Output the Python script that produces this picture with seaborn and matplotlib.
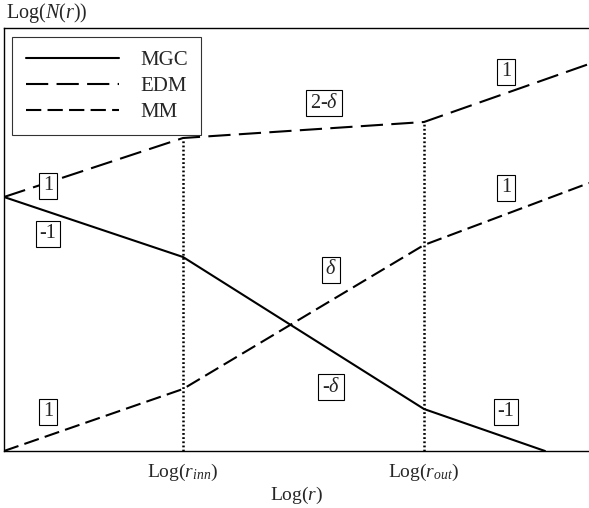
import numpy as np
import pandas as pd
import matplotlib
matplotlib.use("Agg")
import matplotlib.pyplot as plt
import seaborn as sns

# ---- data (arbitrary log units) ----
mgc_x = [0, 179, 420, 541]
mgc_y = [254, 194, 42, 0]
edm_x = [0, 179, 420, 585]
edm_y = [254, 313, 329, 387]
mm_x = [0, 179, 420, 585]
mm_y = [0, 62, 206, 268]
series_names = ["MGC", "EDM", "MM"]
r_inn = 179
r_out = 420
tick_labels = [r"Log($r_{inn}$)", r"Log($r_{out}$)"]
# slope labels: (x, y, text)
slope_x = [44, 44, 44, 320, 502, 327, 502, 327, 502]
slope_y = [265, 217, 39, 348, 379, 181, 263, 64, 39]
slope_txt = ["1", "-1", "1", r"2-$\delta$", "1", r"$\delta$", "1", r"-$\delta$", "-1"]

sns.set_theme(style="white")
plt.rcParams["font.family"] = ["Liberation Serif", "DejaVu Serif"]
plt.rcParams["mathtext.fontset"] = "custom"
plt.rcParams["mathtext.rm"] = "Liberation Serif"
plt.rcParams["mathtext.it"] = "Liberation Serif:italic"
plt.rcParams["lines.scale_dashes"] = False

df = pd.concat([
    pd.DataFrame({"x": mgc_x, "y": mgc_y, "series": "MGC"}),
    pd.DataFrame({"x": edm_x, "y": edm_y, "series": "EDM"}),
    pd.DataFrame({"x": mm_x, "y": mm_y, "series": "MM"}),
])

fig = plt.figure(figsize=(5.89, 5.08), dpi=100)
ax = fig.add_axes([4/589, 57/508, 585/589, 423/508])

sns.lineplot(data=df, x="x", y="y", hue="series", style="series",
             hue_order=series_names, style_order=series_names,
             palette={"MGC": "black", "EDM": "black", "MM": "black"},
             dashes={"MGC": "", "EDM": (16, 6), "MM": (11, 4.5)},
             sort=False, estimator=None, linewidth=1.5, legend=False, ax=ax)

# vertical dotted lines
edm_inn = edm_y[edm_x.index(r_inn)]
edm_out = edm_y[edm_x.index(r_out)]
ax.plot([r_inn, r_inn], [0, edm_inn], color="black", lw=1.8, dashes=(1.3, 1.7))
ax.plot([r_out, r_out], [0, edm_out], color="black", lw=1.8, dashes=(1.3, 1.7))

for xx, yy, tt in zip(slope_x, slope_y, slope_txt):
    ax.text(xx, yy, tt, fontsize=14.5, ha="center", va="center",
            bbox=dict(boxstyle="square,pad=0.18", fc="white", ec="black", lw=0.8))

ax.set_xlim(0, 585)
ax.set_ylim(0, 423)
ax.set_xticks([r_inn, r_out])
ax.set_xticklabels(tick_labels, fontsize=14)
ax.set_yticks([])
ax.tick_params(axis="x", length=0, pad=8)
ax.set_xlabel(r"Log($r$)", fontsize=14, labelpad=1)
ax.set_ylabel("")
for s in ax.spines.values():
    s.set_color("black")
    s.set_linewidth(1.0)
ax.spines["right"].set_visible(False)

fig.text(6/589, 1 - 13/508, r"Log($N(r)$)", fontsize=14.5, ha="left", va="center")

handles = ax.lines[:3]
leg = ax.legend(handles, series_names, loc="upper left", fontsize=15,
                handlelength=4.5, handletextpad=1.0, labelspacing=0.3,
                borderpad=0.65, borderaxespad=0, frameon=True, fancybox=False,
                bbox_to_anchor=(8/585, (451 - 37)/423))
leg.get_frame().set_edgecolor("black")
leg.get_frame().set_linewidth(0.8)

fig.savefig("out.png", dpi=100)
